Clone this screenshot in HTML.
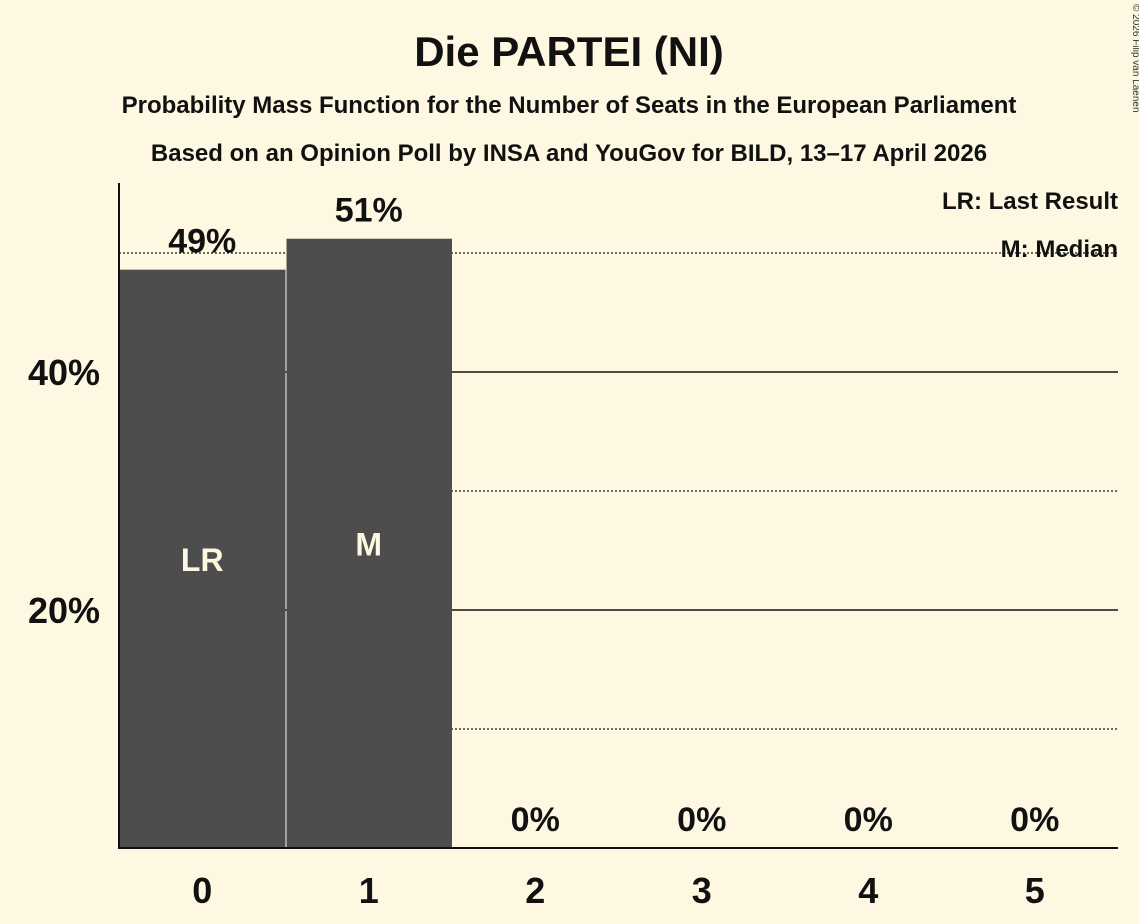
<!DOCTYPE html>
<html><head><meta charset="utf-8"><style>
body{margin:0;background:#fef8e2;}
svg{display:block;font-family:"Liberation Sans",sans-serif;}
</style></head><body>
<svg id="c" width="1139" height="924">
<rect width="1139" height="924" fill="#fef8e2"/>
<text x="569" y="66" text-anchor="middle" font-size="42" font-weight="bold" fill="#111">Die PARTEI (NI)</text>
<text x="569" y="113" text-anchor="middle" font-size="24" font-weight="bold" fill="#111">Probability Mass Function for the Number of Seats in the European Parliament</text>
<text x="569" y="161" text-anchor="middle" font-size="24" font-weight="bold" fill="#111">Based on an Opinion Poll by INSA and YouGov for BILD, 13–17 April 2026</text>
<text x="1133" y="4" transform="rotate(90 1133 4)" font-size="10" fill="#333">© 2026 Filip van Laenen</text>
<g id="grid"></g>
<g id="bars"></g>
<line x1="119" y1="183" x2="119" y2="848" stroke="#111" stroke-width="2"/>
<line x1="118" y1="848" x2="1118" y2="848" stroke="#111" stroke-width="2"/>
<text x="1118" y="209" text-anchor="end" font-size="24" font-weight="bold" fill="#111">LR: Last Result</text>
<text x="1118" y="257" text-anchor="end" font-size="24" font-weight="bold" fill="#111">M: Median</text>
</svg>
<script>
const categories=["0","1","2","3","4","5"];
const values=[48.6,51.2,0,0,0,0];
const valueLabels=["49%","51%","0%","0%","0%","0%"];
const barMarks=["LR","M","","","",""];
const majorTicks=[20,40];
const minorTicks=[10,30,50];
const ns="http://www.w3.org/2000/svg";
const x0=119,x1=1118,yBase=848,pxPer=11.9;
const bw=(x1-x0)/categories.length;
const y=v=>yBase-v*pxPer;
const xc=i=>x0+bw*(i+0.5);
function mk(t,a,p){const e=document.createElementNS(ns,t);for(const k in a)e.setAttribute(k,a[k]);p.appendChild(e);return e;}
const g=document.getElementById('grid'),b=document.getElementById('bars');
minorTicks.forEach(v=>{const l=mk('line',{x1:x0,x2:x1,y1:y(v),y2:y(v),stroke:'#111','stroke-width':1.2,'stroke-dasharray':'2,2'},g);

});
majorTicks.forEach(v=>{const l=mk('line',{x1:x0,x2:x1,y1:y(v),y2:y(v),stroke:'#111','stroke-width':1.5},g);


const t=mk('text',{x:100,y:y(v)+13,'text-anchor':'end','font-size':36,'font-weight':'bold',fill:'#111'},g);t.textContent=v+'%';

});
categories.forEach((c,i)=>{
const left=x0+bw*i+(i?1:0);
if(values[i]>0){const r=mk('rect',{x:left,y:y(values[i]),width:bw-(i?1:0),height:values[i]*pxPer,fill:'#4d4d4d'},b);

}
const vl=mk('text',{x:xc(i),y:y(values[i])-17,'text-anchor':'middle','font-size':34,'font-weight':'bold',fill:'#111'},b);vl.textContent=valueLabels[i];


if(barMarks[i]){const m=mk('text',{x:xc(i),y:y(values[i]/2)+12,'text-anchor':'middle','font-size':32,'font-weight':'bold',fill:'#fef8e2'},b);m.textContent=barMarks[i];

}
const xl=mk('text',{x:xc(i),y:903,'text-anchor':'middle','font-size':36,'font-weight':'bold',fill:'#111'},b);xl.textContent=c;


});
</script>
</body></html>
